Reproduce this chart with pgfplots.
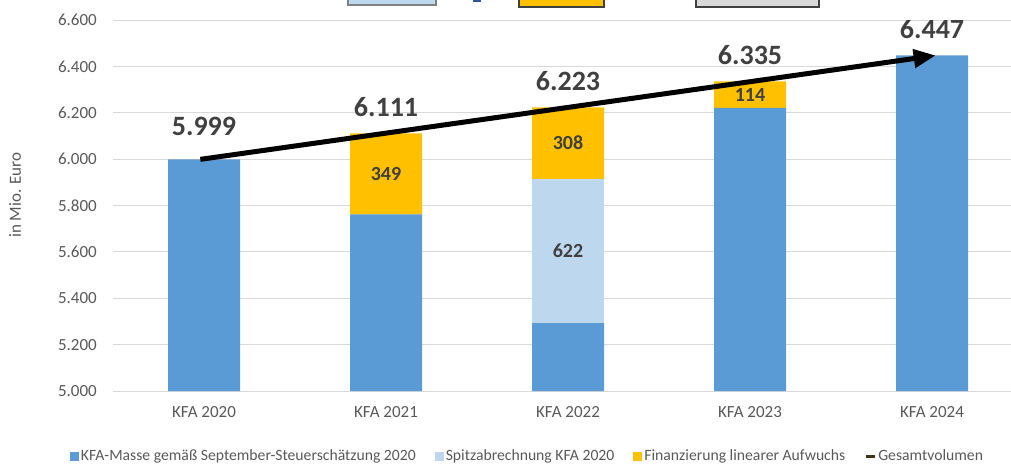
\documentclass[border=0pt]{standalone}
\usepackage{pgfplots}
\pgfplotsset{compat=1.18}
\usepackage{fontspec}
\setmainfont{Carlito}
\usetikzlibrary{arrows.meta}
\definecolor{cblue}{HTML}{5B9BD5}
\definecolor{clight}{HTML}{BDD7EE}
\definecolor{cyellow}{HTML}{FFC000}
\definecolor{cgrid}{HTML}{D9D9D9}
\definecolor{ctext}{HTML}{595959}
\definecolor{clabel}{HTML}{404040}
\definecolor{cline}{RGB}{60,52,20}
\definecolor{cdark}{HTML}{2F5597}
\pgfplotsset{base/.style={
  at={(0pt,0pt)}, anchor=south west,
  scale only axis, width=898pt, height=371pt,
  xmin=-0.5, xmax=4.434, ymin=5000, ymax=6600}}
\begin{document}
\begin{tikzpicture}
\useasboundingbox (-113pt,-73pt) rectangle (898pt,391pt);
\begin{axis}[
  base,
  ybar stacked, bar width=72pt,
  xtick={0,1,2,3,4},
  xticklabels={KFA 2020,KFA 2021,KFA 2022,KFA 2023,KFA 2024},
  ytick={5000,5200,5400,5600,5800,6000,6200,6400,6600},
  scaled y ticks=false,
  ymajorgrids, grid style={cgrid, line width=1pt},
  axis line style={draw=none},
  major tick style={draw=none},
  ticklabel style={font=\fontsize{17}{20}\selectfont, text=ctext, inner sep=0pt},
  yticklabel style={anchor=east, xshift=-16pt,
    /pgf/number format/fixed, /pgf/number format/1000 sep={.},
    /pgf/number format/assume math mode=true},
  xticklabel style={anchor=center, yshift=-21pt},
  ylabel={in Mio. Euro},
  ylabel style={at={(axis description cs:-0.1091,0.528)}, anchor=center,
    font=\fontsize{17}{20}\selectfont, text=ctext, inner sep=0pt},
]
\addplot[fill=cblue, draw=none] coordinates {(0,5999) (1,5762) (2,5293) (3,6221) (4,6447)};
\addplot[fill=clight, draw=none] coordinates {(0,0) (1,0) (2,622) (3,0) (4,0)};
\addplot[fill=cyellow, draw=none] coordinates {(0,0) (1,349) (2,308) (3,114) (4,0)};
\end{axis}
\begin{axis}[base, hide axis,
  legend columns=4,
  legend style={at={(0.4616,-0.1752)}, anchor=center, draw=none, fill=none,
    font=\fontsize{15.7}{18}\selectfont, text=ctext,
    /tikz/every even column/.append style={column sep=17pt}},
  legend image code/.code={\fill[#1] (0pt,-4.5pt) rectangle (9pt,4.5pt);},
]
\addlegendimage{fill=cblue, draw=none}
\addlegendentry{KFA-Masse gemäß September-Steuerschätzung 2020}
\addlegendimage{fill=clight, draw=none}
\addlegendentry{Spitzabrechnung KFA 2020}
\addlegendimage{fill=cyellow, draw=none}
\addlegendentry{Finanzierung linearer Aufwuchs}
\addlegendimage{legend image code/.code={\draw[cline, line width=3pt] (0pt,0pt) -- (9pt,0pt);}}
\addlegendentry{Gesamtvolumen}
\addplot[black, line width=5pt, -{Triangle[length=22pt,width=18pt]}, forget plot]
  coordinates {(-0.02,5999) (4.02,6447)};
\begin{scope}[every node/.style={font=\bfseries\fontsize{20}{24}\selectfont, text=clabel, inner sep=0pt}]
\node at (axis cs:1,5936.5) {349};
\node at (axis cs:2,5604) {622};
\node at (axis cs:2,6069) {308};
\node at (axis cs:3,6278) {114};
\end{scope}
\begin{scope}[every node/.style={font=\bfseries\fontsize{28}{32}\selectfont, text=clabel, inner sep=0pt}]
\node at (axis cs:0,6140.6) {5.999};
\node at (axis cs:1,6222.6) {6.111};
\node at (axis cs:2,6334.7) {6.223};
\node at (axis cs:3,6446.8) {6.335};
\node at (axis cs:4,6561) {6.447};
\end{scope}
\end{axis}
% cropped shapes at the top edge of the reference
\filldraw[fill=clight, draw=gray, line width=1.2pt] (235pt,386pt) rectangle (323pt,396pt);
\fill[cdark] (360pt,388.5pt) rectangle (368pt,396pt);
\filldraw[fill=cyellow, draw=clabel, line width=1.2pt] (406pt,384pt) rectangle (491pt,396pt);
\filldraw[fill=cgrid, draw=clabel, line width=1.2pt] (583pt,384pt) rectangle (706pt,396pt);
\end{tikzpicture}
\end{document}
